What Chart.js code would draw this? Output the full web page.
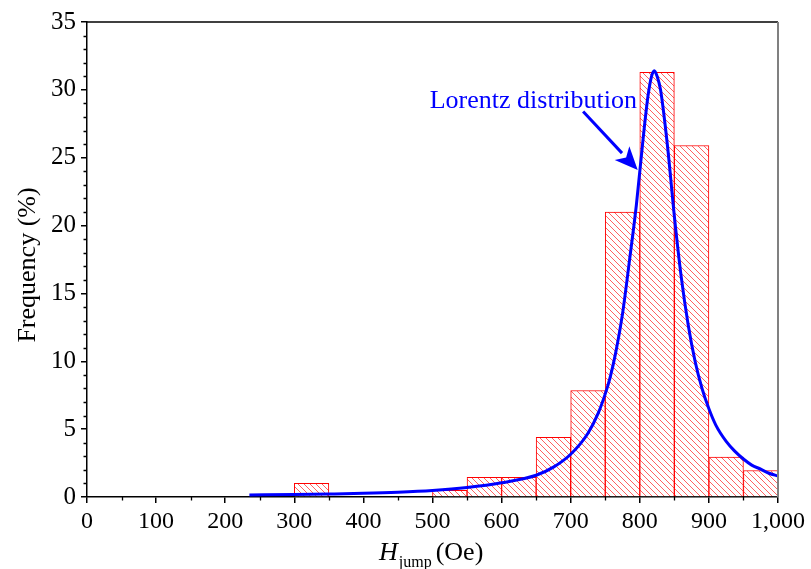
<!DOCTYPE html>
<html>
<head>
<meta charset="utf-8">
<script src="https://cdn.jsdelivr.net/npm/chart.js@4.4.1/dist/chart.umd.min.js"></script>
<style>
  html, body { margin: 0; padding: 0; background: #fff; }
  #wrap { width: 811px; height: 569px; }
</style>
</head>
<body>
<div id="wrap"><canvas id="chart"></canvas></div>
<script>
// Histogram bins (center of each 50 Oe bin) and frequency in %
const binCenters = [325, 375, 425, 475, 525, 575, 625, 675, 725, 775, 825, 875, 925, 975];
const binFreq = [1.0, null, null, null, 0.5, 1.45, 1.45, 4.4, 7.85, 21.0, 31.3, 25.9, 2.95, 1.95];

// Lorentz fit curve
const curveX = [235, 300, 350, 400, 450, 500, 550, 600, 650, 675, 700, 725, 740, 750, 757, 765, 775, 785,
                795, 805, 812, 817, 821, 825, 830, 840, 850, 860, 870, 880, 890, 900, 910, 925, 937, 950, 962, 975, 987, 1000];
const curveY = [0.15, 0.18, 0.22, 0.27, 0.35, 0.48, 0.7, 1.05, 1.6, 2.2, 3.15, 4.7, 6.2, 7.6, 8.8, 10.6, 13.5, 17.4,
                21.5, 26.5, 29.6, 31.0, 31.4, 31.0, 30.0, 25.9, 20.7, 16.2, 12.7, 10.0, 8.0, 6.5, 5.3, 4.1, 3.4, 2.8, 2.35, 2.05, 1.75, 1.55];

const xTicks = [0, 100, 200, 300, 400, 500, 600, 700, 800, 900, 1000];
const yTicks = [0, 5, 10, 15, 20, 25, 30, 35];

const serif = '"Liberation Serif", "Times New Roman", serif';

function makeHatch() {
    const c = document.createElement('canvas');
    c.width = 6; c.height = 6;
    const g = c.getContext('2d');
    g.fillStyle = '#fff';
    g.fillRect(0, 0, 6, 6);
    g.strokeStyle = 'rgba(255,30,30,0.7)';
    g.lineWidth = 1;
    g.beginPath();
    g.moveTo(-1, -1); g.lineTo(7, 7);
    g.moveTo(-1, 5); g.lineTo(1, 7);
    g.moveTo(5, -1); g.lineTo(7, 1);
    g.stroke();
    return g.createPattern(c, 'repeat');
}

// frame, minor ticks, axis titles and the annotation
const extras = {
    id: 'extras',
    afterDraw(chart) {
        const ctx = chart.ctx;
        const a = chart.chartArea;
        const xs = chart.scales.x, ys = chart.scales.y;
        ctx.save();

        // top and right frame
        ctx.lineWidth = 1.5;
        ctx.strokeStyle = '#000';
        ctx.beginPath(); ctx.moveTo(a.left, a.top); ctx.lineTo(a.right, a.top); ctx.stroke();
        ctx.strokeStyle = '#808080';
        ctx.lineWidth = 2;
        ctx.beginPath(); ctx.moveTo(a.right, a.top); ctx.lineTo(a.right, a.bottom); ctx.stroke();

        // minor ticks
        ctx.strokeStyle = '#000';
        ctx.lineWidth = 1.3;
        ctx.beginPath();
        for (let v = 1; v < 35; v++) {
            if (v % 5 === 0) continue;
            const y = Math.round(ys.getPixelForValue(v)) + 0.5;
            ctx.moveTo(a.left - 3.5, y); ctx.lineTo(a.left, y);
        }
        for (let v = 50; v < 1000; v += 100) {
            const x = Math.round(xs.getPixelForValue(v)) + 0.5;
            ctx.moveTo(x, a.bottom); ctx.lineTo(x, a.bottom + 3.5);
        }
        ctx.stroke();

        // y title
        ctx.fillStyle = '#000';
        ctx.save();
        ctx.translate(28, 265);
        ctx.rotate(-Math.PI / 2);
        ctx.font = '26px ' + serif;
        ctx.textAlign = 'center';
        ctx.textBaseline = 'middle';
        ctx.fillText('Frequency (%)', 0, 0);
        ctx.restore();

        // x title: H_jump (Oe)
        const big = '26px ' + serif, ital = 'italic 26px ' + serif, small = '16px ' + serif;
        ctx.textBaseline = 'alphabetic';
        ctx.textAlign = 'left';
        ctx.font = ital; const wH = ctx.measureText('H').width;
        ctx.font = small; const wJ = ctx.measureText('jump').width;
        let x0 = 379;
        const base = 560;
        ctx.font = ital; ctx.fillText('H', x0, base); x0 += wH + 1;
        ctx.font = small; ctx.fillText('jump', x0, base + 7); x0 += wJ;
        ctx.font = big; ctx.fillText('(Oe)', x0 + 4, base);

        // annotation
        ctx.fillStyle = '#0000ff';
        ctx.strokeStyle = '#0000ff';
        ctx.font = '26px ' + serif;
        ctx.fillText('Lorentz distribution', xs.getPixelForValue(496), ys.getPixelForValue(28.7));
        const sx = xs.getPixelForValue(718), sy = ys.getPixelForValue(28.4);
        const tx = xs.getPixelForValue(797), ty = ys.getPixelForValue(24.1);
        const ang = Math.atan2(ty - sy, tx - sx);
        const hl = 23, hw = 10;
        const bx = tx - hl * Math.cos(ang), by = ty - hl * Math.sin(ang);
        ctx.lineWidth = 3;
        ctx.beginPath(); ctx.moveTo(sx, sy); ctx.lineTo(bx, by); ctx.stroke();
        ctx.beginPath();
        ctx.moveTo(tx, ty);
        ctx.lineTo(bx + hw * Math.sin(ang), by - hw * Math.cos(ang));
        ctx.lineTo(bx + 6 * Math.cos(ang), by + 6 * Math.sin(ang));
        ctx.lineTo(bx - hw * Math.sin(ang), by + hw * Math.cos(ang));
        ctx.closePath();
        ctx.fill();

        ctx.restore();
    }
};

new Chart(document.getElementById('chart'), {
    type: 'bar',
    data: {
        datasets: [
            {
                type: 'line',
                data: curveX.map((x, i) => ({ x: x, y: curveY[i] })),
                borderColor: '#0000ff',
                borderWidth: 3,
                pointRadius: 0,
                cubicInterpolationMode: 'monotone',
                fill: false,
                order: 0
            },
            {
                type: 'bar',
                data: binCenters.map((x, i) => ({ x: x, y: binFreq[i] })),
                backgroundColor: makeHatch(),
                borderColor: '#ff0000',
                borderWidth: 1,
                borderSkipped: 'start',
                barPercentage: 1,
                categoryPercentage: 1,
                order: 1
            }
        ]
    },
    options: {
        responsive: true,
        maintainAspectRatio: false,
        animation: false,
        layout: { padding: { top: 22, right: 33, left: 0, bottom: 0 } },
        plugins: { legend: { display: false }, tooltip: { enabled: false } },
        scales: {
            x: {
                type: 'linear',
                min: 0, max: 1000,
                offset: false,
                afterFit(s) { s.height = 72; },
                afterBuildTicks(s) { s.ticks = xTicks.map(v => ({ value: v })); },
                ticks: {
                    color: '#000',
                    font: { family: serif, size: 24 },
                    padding: 4,
                    maxRotation: 0,
                    autoSkip: false,
                    callback: v => v.toLocaleString('en-US')
                },
                grid: { drawOnChartArea: false, offset: false, color: '#000', lineWidth: 1.5, tickLength: 6 },
                border: { color: '#000', width: 1.5 }
            },
            y: {
                min: 0, max: 35,
                afterFit(s) { s.width = 87; },
                afterBuildTicks(s) { s.ticks = yTicks.map(v => ({ value: v })); },
                ticks: {
                    color: '#000',
                    font: { family: serif, size: 25 },
                    padding: 5
                },
                grid: { drawOnChartArea: false, color: '#000', lineWidth: 1.5, tickLength: 6 },
                border: { color: '#000', width: 1.5 }
            }
        }
    },
    plugins: [extras]
});
</script>
</body>
</html>
